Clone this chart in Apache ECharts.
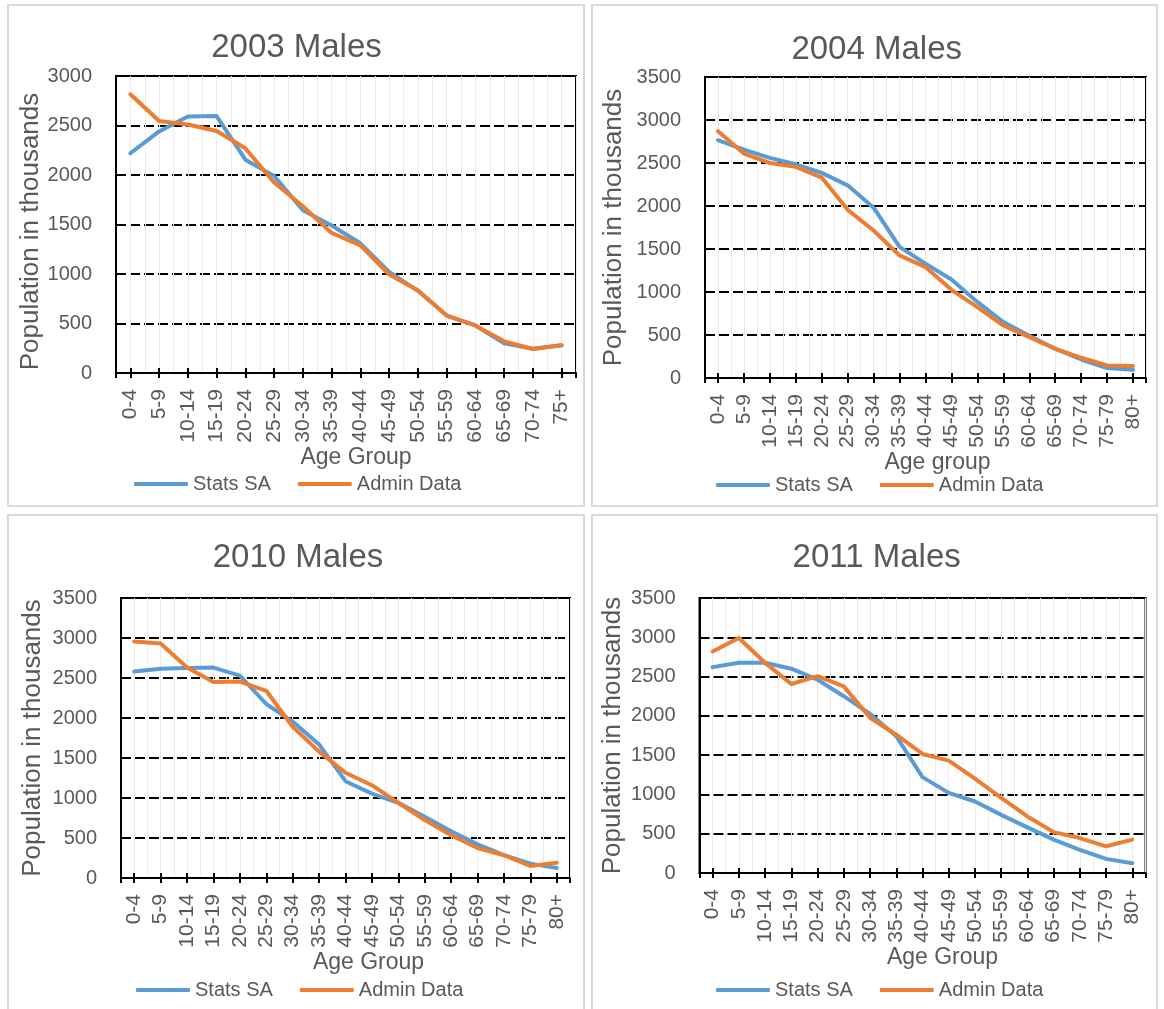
<!DOCTYPE html>
<html>
<head>
<meta charset="utf-8">
<script src="https://cdn.jsdelivr.net/npm/echarts@6/dist/echarts.min.js"></script>
<style>
html,body{margin:0;padding:0;background:#fff;width:1164px;height:1009px;overflow:hidden;position:relative}
.frame{position:absolute;box-sizing:border-box;border:2px solid #d9d9d9;background:#fff;z-index:1}
#chart{position:absolute;left:0;top:0;width:1164px;height:1009px;z-index:2}
</style>
</head>
<body>
<div class="frame" style="left:7px;top:4px;width:578px;height:503px"></div>
<div class="frame" style="left:591px;top:4px;width:567px;height:503px"></div>
<div class="frame" style="left:7px;top:514px;width:578px;height:500px"></div>
<div class="frame" style="left:591px;top:514px;width:567px;height:500px"></div>
<div id="chart"></div>
<script>
// ---- data ----
const catsA = ['0-4','5-9','10-14','15-19','20-24','25-29','30-34','35-39','40-44','45-49','50-54','55-59','60-64','65-69','70-74','75+'];
const catsB = ['0-4','5-9','10-14','15-19','20-24','25-29','30-34','35-39','40-44','45-49','50-54','55-59','60-64','65-69','70-74','75-79','80+'];

const statsSA2003 = [2220, 2440, 2590, 2595, 2155, 1990, 1645, 1490, 1310, 1020, 830, 580, 480, 300, 245, 280];
const admin2003   = [2815, 2545, 2510, 2445, 2270, 1925, 1685, 1415, 1290, 995, 835, 580, 480, 320, 243, 280];

const statsSA2004 = [2765, 2655, 2560, 2485, 2385, 2240, 1980, 1525, 1330, 1145, 885, 650, 490, 340, 215, 115, 95];
const admin2004   = [2870, 2610, 2500, 2455, 2330, 1955, 1715, 1425, 1290, 1025, 825, 610, 475, 340, 235, 145, 140];

const statsSA2010 = [2580, 2615, 2625, 2630, 2530, 2175, 1955, 1670, 1210, 1055, 940, 765, 585, 420, 285, 180, 125];
const admin2010   = [2955, 2930, 2630, 2450, 2455, 2340, 1890, 1580, 1315, 1160, 940, 725, 535, 375, 285, 150, 190];

const statsSA2011 = [2620, 2675, 2675, 2600, 2460, 2250, 2025, 1740, 1220, 1020, 910, 740, 580, 425, 295, 180, 125];
const admin2011   = [2820, 2990, 2675, 2405, 2505, 2375, 1975, 1760, 1515, 1430, 1200, 955, 720, 520, 445, 340, 425];

const panelTitles = ['2003 Males', '2004 Males', '2010 Males', '2011 Males'];
const xAxisTitles = ['Age Group', 'Age group', 'Age Group', 'Age Group'];
const yAxisTitle = 'Population in thousands';
const yMaxes = [3000, 3500, 3500, 3500];
const yStep = 500;
const seriesNames = ['Stats SA', 'Admin Data'];

const panelCats = [catsA, catsB, catsB, catsB];
const panelStats = [statsSA2003, statsSA2004, statsSA2010, statsSA2011];
const panelAdmin = [admin2003, admin2004, admin2010, admin2011];

// ---- layout / style ----
const FONT = 'Liberation Sans, Arial, sans-serif';
const TXT = '#595959';
const BLUE = '#5B9BD5';
const ORANGE = '#ED7D31';
const layout = [
  {grid:{left:116, top:76, width:460, height:297}, tx:296.5, ty:48, lx:134, ly:484, xGap:70, xShift:10, yDist:84, yShift:7},
  {grid:{left:705, top:77, width:441, height:301}, tx:876.7, ty:50, lx:716, ly:485, xGap:67, xShift:12, yDist:91, yShift:0},
  {grid:{left:121, top:598, width:449, height:280}, tx:298, ty:558, lx:136, ly:990, xGap:72, xShift:23, yDist:88, yShift:0},
  {grid:{left:699.5, top:598, width:446, height:275}, tx:876.7, ty:558, lx:716, ly:990, xGap:72, xShift:20, yDist:87, yShift:0}
];
const TITLE_FS = 33, TICK_FS = 20, XLAB_FS = 21, XNAME_FS = 23, YNAME_FS = 26, LEG_FS = 20;

const option = {
  animation: false,
  title: [], grid: [], xAxis: [], yAxis: [], legend: [], series: []
};

for (let i = 0; i < 4; i++) {
  const L = layout[i];
  const cats = panelCats[i];
  const n = cats.length;
  option.title.push({
    text: panelTitles[i], left: L.tx, top: L.ty - TITLE_FS / 2, textAlign: 'center', padding: 0,
    textStyle: {fontSize: TITLE_FS, fontWeight: 'normal', color: TXT, fontFamily: FONT}
  });
  option.grid.push(Object.assign({show: true, borderColor: '#000', borderWidth: 2, backgroundColor: 'transparent'}, L.grid));
  option.xAxis.push({
    type: 'category', gridIndex: i, data: cats, boundaryGap: true, position: 'bottom',
    axisLine: {show: true, onZero: false, lineStyle: {color: '#000', width: 2}},
    axisTick: {show: true, alignWithLabel: true, inside: true, length: 5, lineStyle: {color: '#000', width: 2}},
    axisLabel: {rotate: 90, margin: 16, interval: 0, fontSize: XLAB_FS, color: TXT, fontFamily: FONT},
    splitLine: {show: false},
    name: xAxisTitles[i], nameLocation: 'middle', nameGap: L.xGap,
    nameTextStyle: {fontSize: XNAME_FS, color: TXT, fontFamily: FONT, padding: [0, 0, 0, 2 * L.xShift]}
  });
  option.xAxis.push({
    type: 'category', gridIndex: i, position: 'bottom', offset: 0, boundaryGap: false,
    data: Array.from({length: 2 * n + 1}, (_, k) => String(k)),
    axisLine: {show: false, onZero: false}, axisLabel: {show: false},
    axisTick: {show: true, inside: false, length: 5, interval: (idx) => idx % 2 === 1 || idx === 0 || idx === 2 * n,
               lineStyle: {color: '#000', width: 2}},
    splitLine: {show: true, interval: 0, lineStyle: {color: '#ebebeb', width: 1}}
  });
  option.yAxis.push({
    type: 'value', gridIndex: i, min: 0, max: yMaxes[i], interval: yStep,
    axisLine: {show: true, lineStyle: {color: '#000', width: 2}}, axisTick: {show: false},
    axisLabel: {fontSize: TICK_FS, color: TXT, margin: 24, fontFamily: FONT, formatter: (v) => String(v)},
    splitLine: {show: true, lineStyle: {color: '#000', width: 2, type: [10, 4]}},
    name: yAxisTitle, nameLocation: 'middle', nameGap: L.yDist - YNAME_FS / 2,
    nameTextStyle: {fontSize: YNAME_FS, color: TXT, fontFamily: FONT, padding: [0, 2 * L.yShift, 0, 0]}
  });
  option.legend.push({
    data: seriesNames, left: L.lx, top: L.ly - LEG_FS / 2, orient: 'horizontal', padding: 0,
    itemWidth: 54, itemHeight: 4, itemGap: 27, icon: 'roundRect', selectedMode: false,
    textStyle: {fontSize: LEG_FS, color: TXT, fontFamily: FONT}
  });
  const mk = (name, data, color, z) => ({
    type: 'line', name, data, xAxisIndex: 2 * i, yAxisIndex: i,
    symbol: 'none', showSymbol: false, smooth: false, z,
    lineStyle: {width: 4, color, join: 'round', cap: 'round'},
    itemStyle: {color}, emphasis: {disabled: true}
  });
  option.series.push(mk(seriesNames[0], panelStats[i], BLUE, 3));
  option.series.push(mk(seriesNames[1], panelAdmin[i], ORANGE, 4));
}

const chart = echarts.init(document.getElementById('chart'), null, {renderer: 'canvas'});
chart.setOption(option);
</script>
</body>
</html>
